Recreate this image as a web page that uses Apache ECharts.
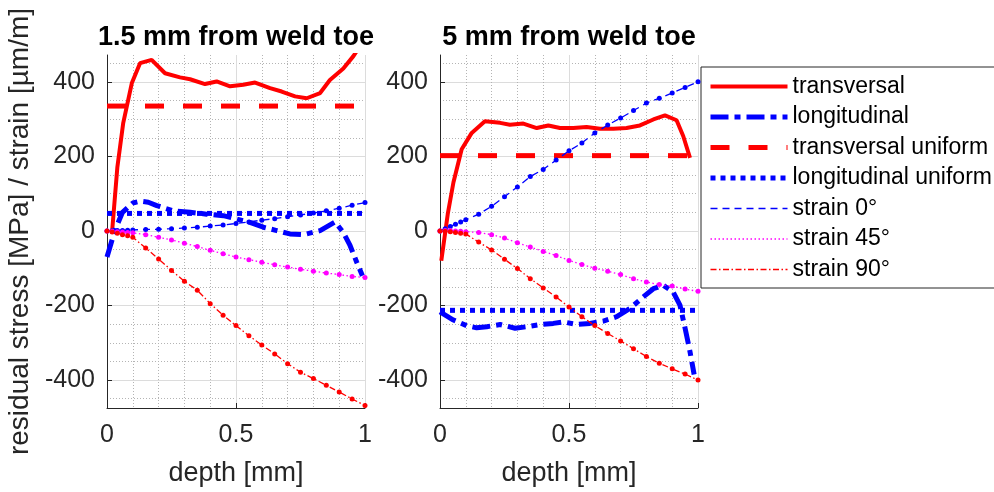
<!DOCTYPE html>
<html>
<head>
<meta charset="utf-8">
<script src="https://cdn.jsdelivr.net/npm/echarts@6/dist/echarts.min.js"></script>
<style>
html, body { margin: 0; padding: 0; background: #fff; }
#chart { width: 994px; height: 492px; }
</style>
</head>
<body>
<div id="chart"></div>
<script>
// ---- panel titles and axis ticks ----
const panelTitles = ['1.5 mm from weld toe', '5 mm from weld toe'];
const yMajorTicks = [-400, -200, 0, 200, 400];
const yMinorTicks = [-450, -350, -300, -250, -150, -100, -50, 50, 100, 150, 250, 300, 350, 450];
const xTickLabels = [0, 0.5, 1];

// ---- 1.5 mm from weld toe: residual stress [MPa] ----
const transDepthA = [0.02, 0.04, 0.063, 0.096, 0.128, 0.173, 0.225, 0.283, 0.322, 0.38, 0.425, 0.477, 0.528, 0.574, 0.632, 0.677, 0.729, 0.774, 0.826, 0.864, 0.916, 0.955, 0.98];
const transA = [0, 170, 290, 396, 450, 459, 423, 412, 407, 394, 401, 388, 392, 398, 383, 374, 361, 356, 370, 405, 436, 469, 495];
const longDepthA = [0, 0.03, 0.06, 0.1, 0.13, 0.16, 0.193, 0.257, 0.322, 0.386, 0.451, 0.503, 0.554, 0.606, 0.658, 0.709, 0.761, 0.826, 0.884, 0.916, 0.942, 0.968, 0.99];
const longA = [-70, 0, 50, 75, 80, 77, 68, 54, 50, 45, 41, 32, 23, 10, 1, -8, -10, 1, 24, -4, -39, -84, -120];
const transUniformA = 335;
const longUniformA = 47;

// ---- 5 mm from weld toe: residual stress [MPa] ----
const transDepthB = [0.005, 0.03, 0.052, 0.084, 0.123, 0.174, 0.233, 0.271, 0.323, 0.375, 0.42, 0.465, 0.517, 0.568, 0.62, 0.672, 0.723, 0.775, 0.827, 0.872, 0.917, 0.943, 0.969];
const transB = [-80, 45, 130, 219, 263, 294, 290, 285, 288, 276, 283, 276, 276, 279, 274, 274, 276, 283, 299, 310, 297, 254, 196];
const longDepthB = [0, 0.052, 0.103, 0.142, 0.181, 0.233, 0.291, 0.336, 0.388, 0.439, 0.478, 0.53, 0.581, 0.633, 0.685, 0.736, 0.788, 0.827, 0.866, 0.904, 0.93, 0.95, 0.969, 0.985];
const longB = [-217, -239, -254, -260, -257, -251, -261, -257, -251, -248, -244, -251, -248, -242, -230, -208, -177, -155, -146, -164, -199, -261, -324, -385];
const transUniformB = 202;
const longUniformB = -213;

// ---- measured strain [µm/m] at each drilling depth ----
const strainDepth = [0, 0.02, 0.04, 0.06, 0.08, 0.1, 0.15, 0.2, 0.25, 0.3, 0.35, 0.4, 0.45, 0.5, 0.55, 0.6, 0.65, 0.7, 0.75, 0.8, 0.85, 0.9, 0.95, 1];
const strain0A  = [0, 0.5, 1, 1.5, 2, 2.7, 4, 4.5, 6, 8, 10, 13, 16, 20, 24, 29, 33, 38, 43, 48, 54, 61, 69, 76];
const strain45A = [0, -1, -2, -3, -4, -5, -10, -17, -24, -33, -42, -52, -61, -70, -77, -84, -91, -97, -103, -108, -113, -117, -122, -125];
const strain90A = [0, -3, -6, -10, -13, -17, -46, -75, -106, -135, -159, -195, -226, -254, -281, -306, -330, -356, -379, -396, -414, -432, -451, -468];
const strain0B  = [0, 6, 12, 18, 24, 30, 45, 66, 92, 118, 146, 165, 190, 215, 236, 263, 284, 303, 323, 343, 356, 370, 385, 400];
const strain45B = [0, 1, 1, 0, -1, -2, -4, -10, -19, -32, -43, -55, -66, -79, -90, -100, -108, -117, -128, -137, -144, -148, -156, -162];
const strain90B = [0, -1, -2, -4, -6, -8, -30, -51, -76, -101, -128, -153, -177, -204, -230, -254, -275, -295, -316, -337, -355, -370, -384, -400];

const FONT = '"Liberation Sans", Arial, Helvetica, sans-serif';
const RED = '#ff0000', BLUE = '#0000ff', MAGENTA = '#ff00ff';
const AXIS_COLOR = '#262626';
const MAJOR_GRID = '#dcdcdc', MINOR_GRID = '#b4b4b4';

const pairs = (xs, ys) => xs.map((x, i) => [x, ys[i]]);
const flat = (v) => [[0, v], [1, v]];

const panels = [
  { trans: pairs(transDepthA, transA), long: pairs(longDepthA, longA),
    tu: transUniformA, lu: longUniformA,
    s0: pairs(strainDepth, strain0A), s45: pairs(strainDepth, strain45A), s90: pairs(strainDepth, strain90A) },
  { trans: pairs(transDepthB, transB), long: pairs(longDepthB, longB),
    tu: transUniformB, lu: longUniformB,
    s0: pairs(strainDepth, strain0B), s45: pairs(strainDepth, strain45B), s90: pairs(strainDepth, strain90B) }
];

const gridLefts = [107, 440];
const grids = gridLefts.map(l => ({ left: l, top: 55, width: 258, height: 355, containLabel: false }));

const xAxes = gridLefts.map((l, i) => ({
  type: 'value', gridIndex: i, min: 0, max: 1, interval: 0.5,
  name: 'depth [mm]', nameLocation: 'middle', nameGap: 52,
  nameTextStyle: { fontFamily: FONT, fontSize: 27, color: AXIS_COLOR },
  axisLine: { show: true, onZero: false, lineStyle: { color: AXIS_COLOR, width: 1 } },
  axisTick: { show: true, inside: true, length: 5, lineStyle: { color: AXIS_COLOR } },
  axisLabel: { fontFamily: FONT, fontSize: 25, color: AXIS_COLOR, margin: 15,
               formatter: v => (xTickLabels.indexOf(v) >= 0 ? String(v) : '') },
  splitLine: { show: true, lineStyle: { color: MAJOR_GRID, width: 1 } },
  minorTick: { show: false, splitNumber: 5 },
  minorSplitLine: { show: true, lineStyle: { color: MINOR_GRID, width: 1, type: [1, 2] } }
}));

const yAxes = [];
gridLefts.forEach((l, i) => {
  yAxes.push({
    type: 'value', gridIndex: i, min: -475, max: 472,
    name: i === 0 ? 'residual stress [MPa] / strain [µm/m]' : '',
    nameLocation: 'middle', nameGap: 73,
    nameTextStyle: { fontFamily: FONT, fontSize: 28, color: AXIS_COLOR },
    axisLine: { show: true, onZero: false, lineStyle: { color: AXIS_COLOR, width: 1 } },
    axisTick: { show: true, inside: true, length: 5, customValues: yMajorTicks, lineStyle: { color: AXIS_COLOR } },
    axisLabel: { fontFamily: FONT, fontSize: 25, color: AXIS_COLOR, margin: 12, customValues: yMajorTicks },
    splitLine: { show: true, lineStyle: { color: MAJOR_GRID, width: 1 } }
  });
  yAxes.push({
    type: 'value', gridIndex: i, min: -475, max: 472,
    axisLine: { show: false },
    axisTick: { show: false, customValues: yMinorTicks },
    axisLabel: { show: false, customValues: yMinorTicks },
    splitLine: { show: true, lineStyle: { color: MINOR_GRID, width: 1, type: [1, 2] } }
  });
});

const series = [];
panels.forEach((p, i) => {
  const ax = { xAxisIndex: i, yAxisIndex: i * 2 };
  series.push(
    Object.assign({ name: 'transversal', type: 'line', data: p.trans, symbol: 'none',
      lineStyle: { color: RED, width: 4 }, itemStyle: { color: RED }, z: 3 }, ax),
    Object.assign({ name: 'longitudinal', type: 'line', data: p.long, symbol: 'none',
      lineStyle: { color: BLUE, width: 5, type: [18, 6, 6, 6] }, itemStyle: { color: BLUE }, z: 3 }, ax),
    Object.assign({ name: 'transversal uniform', type: 'line', data: flat(p.tu), symbol: 'none',
      lineStyle: { color: RED, width: 5, type: [19, 19] }, itemStyle: { color: RED }, z: 3 }, ax),
    Object.assign({ name: 'longitudinal uniform', type: 'line', data: flat(p.lu), symbol: 'none',
      lineStyle: { color: BLUE, width: 5, type: [5, 5] }, itemStyle: { color: BLUE }, z: 3 }, ax),
    Object.assign({ name: 'strain 0°', type: 'line', data: p.s0, symbol: 'circle', symbolSize: 5,
      lineStyle: { color: BLUE, width: 1.3, type: [7, 5] }, itemStyle: { color: BLUE }, z: 4 }, ax),
    Object.assign({ name: 'strain 45°', type: 'line', data: p.s45, symbol: 'circle', symbolSize: 5,
      lineStyle: { color: MAGENTA, width: 1.3, type: [1.5, 2.5] }, itemStyle: { color: MAGENTA }, z: 4 }, ax),
    Object.assign({ name: 'strain 90°', type: 'line', data: p.s90, symbol: 'circle', symbolSize: 5,
      lineStyle: { color: RED, width: 1.3, type: [6, 2.5, 1.5, 2.5] }, itemStyle: { color: RED }, z: 4 }, ax)
  );
});

const chart = echarts.init(document.getElementById('chart'), null, { renderer: 'canvas' });
chart.setOption({
  animation: false,
  backgroundColor: '#fff',
  title: panelTitles.map((t, i) => ({
    text: t, left: gridLefts[i] + 129 - 5, top: 19, textAlign: 'center',
    textStyle: { fontFamily: FONT, fontSize: 27, fontWeight: 'bold', color: '#000' }
  })),
  legend: {
    orient: 'vertical', left: 701, top: 67, padding: [8, 3, 7, 7],
    itemWidth: 77, itemHeight: 14, itemGap: 7.5,
    backgroundColor: '#fff', borderColor: AXIS_COLOR, borderWidth: 1, borderRadius: 0,
    selectedMode: false,
    itemStyle: { opacity: 0 },
    lineStyle: { width: 'inherit' },
    textStyle: { fontFamily: FONT, fontSize: 23, color: '#000', lineHeight: 22 },
    data: ['transversal', 'longitudinal', 'transversal uniform', 'longitudinal uniform', 'strain 0°', 'strain 45°', 'strain 90°']
  },
  grid: grids,
  xAxis: xAxes,
  yAxis: yAxes,
  series: series
});
</script>
</body>
</html>
